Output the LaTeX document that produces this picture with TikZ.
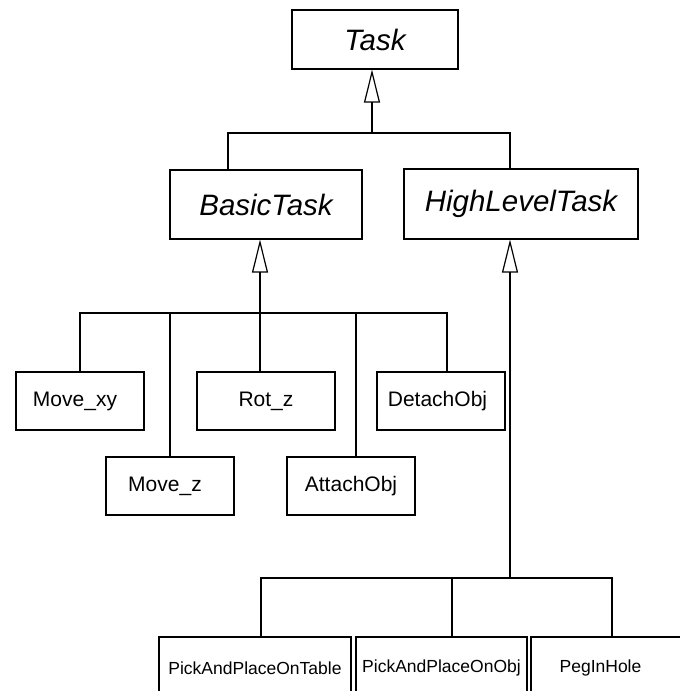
\documentclass[tikz,border=0pt]{standalone}
\usepackage{fontspec}
\setmainfont{Liberation Sans}
\usepackage{tikz}
\usetikzlibrary{arrows.meta,positioning}

\begin{document}
\begin{tikzpicture}[
    x=1pt, y=-1pt,
    line width=1.2pt,
    absclass/.style={draw, inner sep=0pt, font=\fontsize{29.5}{35}\selectfont\itshape},
    midclass/.style={draw, inner sep=0pt, minimum height=58pt, font=\fontsize{21}{25}\selectfont},
    leafclass/.style={draw, inner sep=0pt, minimum height=62pt, font=\fontsize{17.5}{21}\selectfont},
    gen/.style={-{Triangle[open, length=33pt, width=16pt]}}
]
\useasboundingbox (0,0) rectangle (680,691);
\clip (0,0) rectangle (680,691);

% Klassen
\node[absclass, minimum width=166pt, minimum height=59pt] (task) at (375,39.5) {Task};
\node[absclass, minimum width=192pt, minimum height=69pt] (basic) at (266,204.5) {BasicTask};
\node[absclass, minimum width=234pt, minimum height=70pt] (high) at (521,204) {HighLevelTask};

\node[midclass, minimum width=128pt] (movexy) at (80,401) {Move\_xy\kern10pt};
\node[midclass, minimum width=138pt] (rotz) at (266,401) {Rot\_z};
\node[midclass, minimum width=128pt] (detach) at (441,401) {DetachObj\kern7pt};
\node[midclass, minimum width=128pt] (movez) at (170,486) {Move\_z\kern10pt};
\node[midclass, minimum width=128pt] (attach) at (351,486) {AttachObj};

\node[leafclass, minimum width=192pt] (pptable) at (255,668) {PickAndPlaceOnTable};
\node[leafclass, minimum width=171pt] (ppobj) at (441.5,668) {PickAndPlaceOnObj};
\node[leafclass, minimum width=159pt] (peg) at (610.5,668) {PegInHole\kern20pt};

% Sammelpunkte
\coordinate (t-bus) at (372,133);
\coordinate (b-bus) at (260,313);
\coordinate (h-bus) at (510,578);

% Vererbung Task
\draw[gen] (t-bus) -- ([xshift=-3pt]task.south);
\draw ([xshift=-38pt]basic.north) |- (t-bus) -| ([xshift=-11pt]high.north);

% Vererbung BasicTask
\draw[gen] (b-bus) -- ([xshift=-6pt]basic.south);
\foreach \n/\dx in {movexy/0,movez/0,rotz/-6,attach/5,detach/6}
    \draw ([xshift=\dx pt]\n.north) |- (b-bus);

% Vererbung HighLevelTask
\draw[gen] (h-bus) -- ([xshift=-11pt]high.south);
\foreach \n/\dx in {pptable/6,ppobj/10.5,peg/1.5}
    \draw ([xshift=\dx pt]\n.north) |- (h-bus);

\end{tikzpicture}
\end{document}
